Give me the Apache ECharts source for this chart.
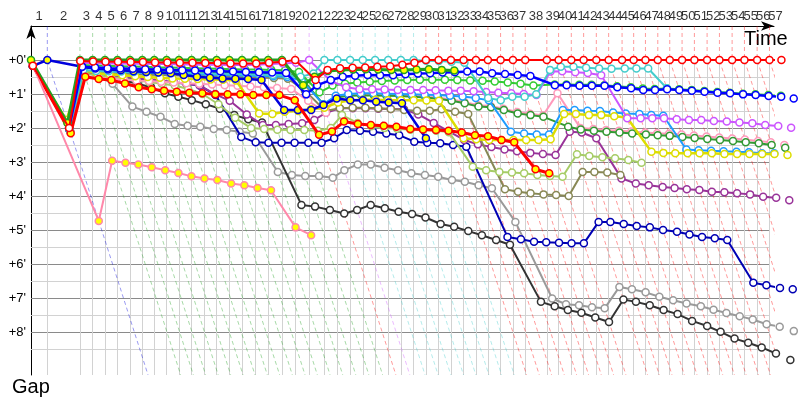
<!DOCTYPE html>
<html><head><meta charset="utf-8">
<script src="https://cdn.jsdelivr.net/npm/echarts@6/dist/echarts.min.js"></script>
<style>html,body{margin:0;padding:0;background:#fff}#c{width:800px;height:400px}</style>
</head><body><div id="c"></div>
<script>
// ---------- DATA ----------
const lapNumbers = [1,2,3,4,5,6,7,8,9,10,11,12,13,14,15,16,17,18,19,20,21,22,23,24,25,26,27,28,29,30,31,32,33,34,35,36,37,38,39,40,41,42,43,44,45,46,47,48,49,50,51,52,53,54,55,56,57];
// leader lap times (seconds) laps 1..57
const lapSeconds = [90,180,70,68,69,69,68,66,68,68,70,70,68,70,70,72,72,76,73,77,84,72,70,70,68,72,70,70,68,70,68,70,68,66,70,68,68,119,65,70,68,70,68,74,64,65,68,66,68,68,70,68,70,68,70,68,66];
const gapTicks = [0,1,2,3,4,5,6,7,8];
const gapHalfTicks = [0.5,1.5,2.5,3.5,4.5,5.5,6.5,7.5,8.5];

// gaps (minutes) per lap, index = lap (0 = start)
const greenY = [0,1.85,0,0,0,0,0,0,0,0,0,0,0,0,0,0,0,0,0,0.74,0.49,0.32,0.29,0.28,0.27,0.28,0.29,0.29,0.28,0.27,0.29,0.31];
const redO = [0.17,2.0,0.03,0.04,0.05,0.05,0.06,0.06,0.07,0.07,0.08,0.08,0.09,0.09,0.1,0.1,0.1,0.08,0.05,0,0.59,0.29,0.24,0.23,0.22,0.2,0.18,0.14,0.08,0,0,0,0,0,0,0,0,0,0,0,0,0,0,0,0,0,0,0,0,0,0,0,0,0,0,0,0,0];
const violetO = [0.17,2.0,0.08,0.09,0.1,0.1,0.11,0.11,0.12,0.12,0.13,0.13,0.14,0.14,0.15,0.15,0.14,0.12,0.1,0.08,0,0.62,0.8,0.86,0.86,0.87,0.88,0.88,0.88,0.89,0.9,0.9,0.92,0.94,0.96,0.98,1.0,1.03,0.34,0.33,0.36,0.38,0.45,1.71,1.71,1.71,1.71,1.74,1.76,1.76,1.79,1.81,1.84,1.86,1.91,1.94,1.99];
const cyanO = [0.17,2.05,0.3,0.32,0.33,0.34,0.35,0.36,0.37,0.38,0.38,0.39,0.4,0.41,0.42,0.42,0.43,0.44,0.45,0.49,0.4,0,0,0,0,0,0,0,0,0.02,0.03,0.05,0.08,1.12,1.18,1.08,1.08,1.01,0.29,0.2,0.2,0.23,0.25,0.26,0.25,0.25,0.25,0.83];
const blueO = [0.17,2.0,0.2,0.22,0.24,0.25,0.26,0.27,0.28,0.29,0.3,0.31,0.32,0.33,0.34,0.35,0.36,0.37,0.38,1.01,0.74,0.59,0.49,0.46,0.44,0.45,0.45,0.42,0.4,0.39,0.37,0.36,0.34,0.34,0.39,0.41,0.44,0.47,0.74,0.74,0.76,0.76,0.76,0.8,0.83,0.88,0.88,0.86,0.88,0.9,0.93,0.96,0.98,1.01,1.03,1.06,1.08,1.13];
const greenO = [0.17,2.0,0.15,0.16,0.17,0.18,0.19,0.2,0.21,0.22,0.23,0.24,0.25,0.26,0.27,0.28,0.28,0.29,0.3,0.35,0.95,0.75,0.7,0.66,0.64,0.62,0.6,0.59,0.58,0.58,0.58,0.59,0.6,0.61,0.63,0.66,0.7,0.75,0.72,0.72,0.73,0.73,0.74,0.77,0.8,0.84,0.85,0.84,0.86,0.88,0.91,0.94,0.96,0.99,1.01,1.03,1.05];
const darkgreenO = [0.17,2.05,0.22,0.25,0.27,0.29,0.3,0.31,0.32,0.33,0.34,0.35,0.36,0.37,0.38,0.39,0.4,0.41,0.42,0.5,1.3,1.1,1.05,1.04,1.04,1.05,1.06,1.08,1.1,1.14,1.2,1.27,1.37,1.39,1.47,1.57,1.62,1.67,1.96,2.04,2.08,2.11,2.13,2.16,2.19,2.21,2.23,2.26,2.29,2.32,2.35,2.38,2.42,2.45,2.5,2.58];
const dodgerO = [0.17,2.05,0.3,0.32,0.34,0.36,0.37,0.38,0.39,0.4,0.41,0.42,0.43,0.44,0.45,0.46,0.47,0.48,0.5,0.6,1.3,1.05,1.0,0.98,0.98,0.99,1.0,1.01,1.02,1.03,1.05,1.07,1.12,1.18,2.11,2.16,2.19,2.19,1.47,1.47,1.49,1.5,1.54,1.57,1.59,1.62,1.64,2.63,2.65,2.67,2.68,2.7,2.71,2.74,2.74];
const yellowO = [0.17,1.76,0.29,0.39,0.42,0.45,0.48,0.5,0.52,0.54,0.55,0.56,0.57,0.58,0.6,1.57,1.59,1.52,1.5,1.45,1.4,1.25,1.18,1.17,1.17,1.18,1.18,1.18,1.19,1.2,2.3,2.33,2.35,2.35,2.35,2.35,2.35,2.33,1.59,1.59,1.62,1.62,1.65,1.69,2.7,2.73,2.74,2.74,2.74,2.74,2.76,2.76,2.76,2.76,2.76,2.79];
const oliveO = [0.17,2.05,0.35,0.37,0.39,0.4,0.42,0.43,0.44,0.45,0.46,0.47,0.48,0.49,0.5,0.51,0.52,0.53,0.55,0.9,1.5,1.42,1.4,1.4,1.42,1.44,1.47,1.49,1.49,1.45,1.52,1.59,3.8,3.87,3.92,3.95,3.97,4.0,3.29,3.29,3.31,3.38];
const purpleO = [0.17,2.05,0.4,0.43,0.46,0.5,0.53,0.56,0.6,0.65,0.7,0.75,1.0,1.2,1.6,1.91,1.91,1.88,1.86,1.76,1.55,1.42,1.42,1.42,1.43,1.44,1.45,1.6,1.85,2.1,2.35,2.48,2.56,2.63,2.68,2.73,2.76,2.79,2.11,2.13,2.3,3.48,3.63,3.68,3.73,3.76,3.8,3.82,3.87,3.89,3.92,3.95,4.02,4.05,4.12];
const yellowgreenO = [0.17,2.1,0.4,0.45,0.5,0.55,0.6,0.65,0.7,0.75,0.85,1.0,1.3,1.7,2.0,2.03,2.05,2.06,2.06,2.08,2.0,1.62,1.85,1.95,2.0,2.02,2.05,2.06,2.08,2.12,3.14,3.24,3.29,3.31,3.33,3.38,3.41,3.43,2.77,2.82,2.86,2.89,2.94,3.02];
const pinkO = [0.17,2.1,0.5,0.52,0.55,0.58,0.6,0.62,0.64,0.66,0.68,0.7,0.72,0.74,0.76,0.78,0.8,0.82,0.85,1.2,1.55,1.06,1.01,1.0,1.0,1.01,1.02,1.04,1.06,1.1,1.16,1.23,1.33,1.35,1.43,1.53,1.58,1.63,0.98,2.0,2.03,2.06,2.08,2.1,2.13,2.15,2.17,2.19,2.22,2.25,2.28,2.31,2.34,2.38,2.42,2.5];
const navyO = [0.17,2.05,0.35,0.4,0.45,0.5,0.55,0.58,0.62,0.66,0.7,0.75,1.03,2.26,2.42,2.43,2.43,2.43,2.43,2.43,2.3,2.06,2.08,2.11,2.16,2.21,2.4,2.43,2.45,2.5,2.55,5.2,5.27,5.34,5.36,5.37,5.39,5.39,4.76,4.76,4.82,4.88,4.92,5.0,5.05,5.13,5.2,5.24,5.29,6.55,6.62,6.7,6.74];
const blueY = [0.17,0,0.2,0.25,0.28,0.3,0.33,0.35,0.37,0.39,0.44,0.49,0.52,0.54,0.55,0.56,0.59,1.47,1.47,1.47,1.32,1.13,1.18,1.18,1.23,1.25,1.27,2.3];
const redY = [0.17,2.15,0.49,0.56,0.59,0.69,0.8,0.86,0.9,0.93,0.96,0.98,1.01,1.01,1.01,1.03,1.03,1.03,1.18,2.2,2.1,1.81,1.88,1.91,1.93,1.96,2.03,2.04,2.06,2.08,2.13,2.21,2.24,2.35,2.42,3.21,3.33];
const pinkY = [0.1,4.73,2.96,3.02,3.07,3.15,3.24,3.32,3.42,3.48,3.53,3.63,3.68,3.76,3.83,4.92,5.15];
const grayO = [0.17,2.1,0.35,0.45,0.7,1.37,1.52,1.67,1.88,1.93,1.96,2.03,2.06,2.11,2.16,3.29,3.38,3.41,3.41,3.46,3.24,3.07,3.07,3.17,3.24,3.33,3.38,3.43,3.53,3.58,3.68,3.77,4.76,7.01,7.18,7.21,7.27,7.3,6.67,6.74,6.83,6.96,7.06,7.16,7.24,7.34,7.44,7.53,7.63,7.77,7.84,7.97];
const blackO = [0.17,2.1,0.3,0.4,0.5,0.6,0.7,0.8,0.98,1.08,1.18,1.3,1.43,1.62,1.74,1.84,4.26,4.31,4.41,4.51,4.41,4.26,4.36,4.46,4.53,4.63,4.82,4.9,5.03,5.15,5.29,5.43,7.11,7.24,7.35,7.43,7.57,7.7,7.04,7.11,7.21,7.35,7.47,7.67,7.82,7.99,8.19,8.31,8.45,8.63,8.82];

// ---------- STYLES ----------
const Y = '#ffff00', W = '#ffffff';
const drivers = [
  {gaps: grayO, color:'#9a9a9a', fill:W, w:2},
  {gaps: blackO, color:'#333333', fill:W, w:2},
  {gaps: navyO, color:'#0000b4', fill:W, w:2},
  {gaps: purpleO, color:'#993399', fill:W, w:2},
  {gaps: oliveO, color:'#888855', fill:W, w:2},
  {gaps: yellowgreenO, color:'#a6cc66', fill:W, w:2},
  {gaps: pinkO, color:'#ff99bb', fill:W, w:2},
  {gaps: darkgreenO, color:'#339933', fill:W, w:2},
  {gaps: dodgerO, color:'#1e9bff', fill:W, w:2},
  {gaps: yellowO, color:'#dddd00', fill:W, w:2.5},
  {gaps: greenO, color:'#33cc33', fill:W, w:2},
  {gaps: violetO, color:'#cc55ff', fill:W, w:2},
  {gaps: cyanO, color:'#44cccc', fill:W, w:2},
  {gaps: blueY, color:'#0000dd', fill:Y, w:2.5},
  {gaps: blueO, color:'#0000ff', fill:W, w:2.5},
  {gaps: redY, color:'#ff0000', fill:Y, w:3},
  {gaps: pinkY, color:'#ff88aa', fill:Y, w:2},
  {gaps: greenY, color:'#22a022', fill:Y, w:3},
  {gaps: redO, color:'#ff0000', fill:W, w:2}
];

// ---------- BUILD ----------
const T = [0];
lapSeconds.forEach(s => T.push(T[T.length-1] + s/60));
const GAP_MAX = 9.26;
const FONT = 'Liberation Sans, Arial, sans-serif';

function rgba(hex, a){
  const n = parseInt(hex.slice(1),16);
  return 'rgba('+((n>>16)&255)+','+((n>>8)&255)+','+(n&255)+','+a+')';
}

// leader of each lap = driver with the smallest gap
const lapColor = lapNumbers.map(n => {
  let best = null, bv = Infinity;
  drivers.forEach(d => { const g = d.gaps[n]; if (g != null && g < bv) { bv = g; best = d; } });
  return best ? best.color : '#999999';
});

const series = [];
// horizontal grid
series.push({
  type:'lines', coordinateSystem:'cartesian2d', silent:true, z:1, animation:false,
  lineStyle:{width:1, opacity:1},
  data: gapTicks.map(h => ({coords:[[0,h],[T[56],h]], lineStyle:{color:'#8a8a8a', opacity:1, width:1}}))
    .concat(gapHalfTicks.map(h => ({coords:[[0,h],[T[56],h]], lineStyle:{color:'#d2d2d2', opacity:1, width:1}})))
});
// vertical lap grid
series.push({
  type:'lines', coordinateSystem:'cartesian2d', silent:true, z:1, animation:false,
  lineStyle:{width:1, color:'#d2d2d2', opacity:1},
  data: lapNumbers.slice(0,56).map(n => ({coords:[[T[n],0],[T[n],GAP_MAX]]}))
});
// lap marker lines (vertical then diagonal)
series.push({
  type:'lines', coordinateSystem:'cartesian2d', polyline:true, silent:true, z:2, animation:false,
  lineStyle:{width:1, type:[4,3], opacity:1},
  data: lapNumbers.map((n,i) => ({coords:[[T[n],-1],[T[n],0],[T[n]+GAP_MAX,GAP_MAX]], lineStyle:{color: rgba(lapColor[i],0.4), type:[4,3], width:1, opacity:1}}))
});
// lap labels
series.push({
  type:'scatter', silent:true, z:3, symbolSize:0, animation:false, clip:false,
  data: lapNumbers.map((n,i) => [(T[i]+T[i+1])/2, -1, n]),
  label:{show:true, position:'top', distance:3, formatter: p => p.value[2], fontSize:13, color:'#000', fontFamily:FONT}
});
// drivers
drivers.forEach((d,k) => {
  const data = [];
  d.gaps.forEach((g,i) => { if (g != null) data.push([T[i]+g, g]); });
  series.push({
    type:'line', data, z:5+k, silent:true, animation:false, clip:false,
    symbol:'circle', symbolSize:7, showSymbol:true, showAllSymbol:true,
    lineStyle:{color:d.color, width:d.w},
    itemStyle:{color:d.fill, borderColor:d.color, borderWidth:1.5}
  });
});

const chart = echarts.init(document.getElementById('c'), null, {renderer:'canvas'});
chart.setOption({
  animation:false,
  backgroundColor:'#ffffff',
  grid:{left:31, right:26, top:26, bottom:25, containLabel:false},
  xAxis:{type:'value', position:'top', min:0, max:68.3,
    axisLine:{show:true, onZero:false, symbol:['none','arrow'], symbolSize:[7,13], lineStyle:{color:'#000', width:1}},
    axisTick:{show:false}, axisLabel:{show:false}, splitLine:{show:false}},
  yAxis:{type:'value', inverse:true, min:-1, max:GAP_MAX, interval:1,
    axisLine:{show:true, onZero:false, symbol:['none','arrow'], symbolSize:[7,13], lineStyle:{color:'#000', width:1}},
    axisTick:{show:false}, splitLine:{show:false},
    axisLabel:{fontSize:13, color:'#000', fontFamily:FONT, margin:5,
      formatter: v => (gapTicks.indexOf(v) >= 0 ? "+" + v + "'" : '')}},
  graphic:[
    {type:'text', left:744, top:29, style:{text:'Time', fontSize:20, fill:'#000', fontFamily:FONT}},
    {type:'text', left:12, top:377, style:{text:'Gap', fontSize:20, fill:'#000', fontFamily:FONT}}
  ],
  series
});
</script></body></html>
